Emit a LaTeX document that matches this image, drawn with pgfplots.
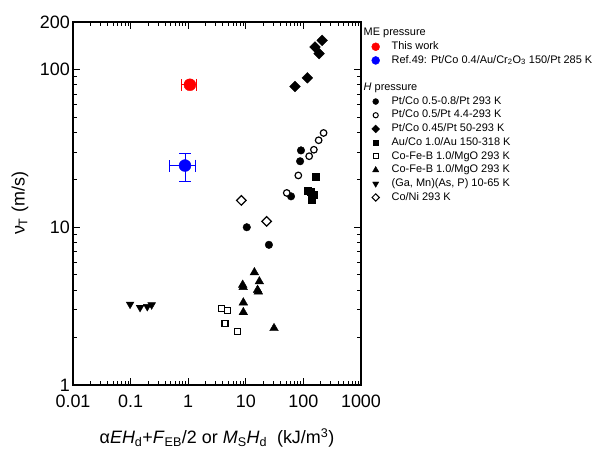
\documentclass[border=0pt]{standalone}
\usepackage{fontspec}
\setmainfont{Liberation Sans}
\usepackage{pgfplots}
\pgfplotsset{compat=1.18}
\begin{document}
\begin{tikzpicture}
\begin{axis}[
 at={(0,0)}, anchor=south west,
 scale only axis, width=288bp, height=363bp,
 xmode=log, ymode=log,
 xmin=0.01, xmax=1000, ymin=1, ymax=200,
 xtick={0.01,0.1,1,10,100,1000}, xticklabels={0.01,0.1,1,10,100,1000},
 minor xtick={0.02,0.03,0.04,0.05,0.06,0.07,0.08,0.09,0.2,0.3,0.4,0.5,0.6,0.7,0.8,0.9,2,3,4,5,6,7,8,9,20,30,40,50,60,70,80,90,200,300,400,500,600,700,800,900},
 ytick={1,10,100}, yticklabels={1,10,100},
 minor ytick={2,3,4,5,6,7,8,9,20,30,40,50,60,70,80,90},
 extra y ticks={200}, extra y tick labels={200}, extra y tick style={major tick length=0pt},
 tick label style={font=\fontsize{18}{20}\selectfont, inner sep=1bp},
 xticklabel style={yshift=-9bp},
 yticklabel style={xshift=-2bp},
 /pgf/number format/assume math mode=true,
 axis line style={line width=1.2pt},
 major tick length=7bp, minor tick length=4bp,
 every tick/.style={black, line width=0.8pt},
 tick align=inside,
 xlabel={α\textit{EH}\textsubscript{d}+\textit{F}\textsubscript{EB}/2 or \textit{M}\textsubscript{S}\textit{H}\textsubscript{d}~~(kJ/m\textsuperscript{3})},
 ylabel={ν\textsubscript{T} (m/s)},
 label style={font=\fontsize{18}{20}\selectfont},
 xlabel style={at={(axis description cs:0.5,0)}, anchor=center, yshift=-53bp},
 ylabel style={at={(axis description cs:0,0.5)}, anchor=center, yshift=53bp},
 legend style={at={(1,1)}, anchor=north west, draw=none, fill=none,
   font=\fontsize{11}{12}\selectfont, row sep=0pt, column sep=10bp, inner sep=0pt,
   xshift=6bp, yshift=-4bp,
   nodes={inner sep=2bp, text height=7.6bp, text depth=2.1bp}},
 legend cell align=left,
]
\addlegendimage{empty legend}\addlegendentry{\hspace*{-28bp}ME pressure}
\addlegendimage{only marks, mark=*, red, mark size=4}\addlegendentry{This work}
\addlegendimage{only marks, mark=*, blue, mark size=4}\addlegendentry{Ref.49: Pt/Co 0.4/Au/Cr\textsubscript{2}O\textsubscript{3} 150/Pt 285 K}
\addlegendimage{empty legend}\addlegendentry{}
\addlegendimage{empty legend}\addlegendentry{\hspace*{-28bp}\textit{H} pressure}
\addlegendimage{only marks, mark=*, black, mark size=3}\addlegendentry{Pt/Co 0.5-0.8/Pt 293 K}
\addlegendimage{only marks, mark=*, draw=black, fill=white, line width=1pt, mark size=2.6}\addlegendentry{Pt/Co 0.5/Pt 4.4-293 K}
\addlegendimage{only marks, mark=square*, mark options={rotate=45}, black, mark size=2.8}\addlegendentry{Pt/Co 0.45/Pt 50-293 K}
\addlegendimage{only marks, mark=square*, black, mark size=2.8}\addlegendentry{Au/Co 1.0/Au 150-318 K}
\addlegendimage{only marks, mark=square*, draw=black, fill=white, line width=1pt, mark size=2.4}\addlegendentry{Co-Fe-B 1.0/MgO 293 K}
\addlegendimage{only marks, mark=triangle*, black, mark size=3.6}\addlegendentry{Co-Fe-B 1.0/MgO 293 K}
\addlegendimage{only marks, mark=triangle*, mark options={rotate=180}, black, mark size=3.6}\addlegendentry{(Ga, Mn)(As, P) 10-65 K}
\addlegendimage{only marks, mark=square*, mark options={rotate=45}, draw=black, fill=white, line width=1pt, mark size=2.6}\addlegendentry{Co/Ni 293 K}

% ME pressure
\addplot[forget plot, only marks, mark=*, red, mark size=6,
  error bars/.cd, x dir=both, x explicit, error bar style={line width=1pt, red}]
  coordinates {(1.07,80) +- (0.3,0)};
\addplot[forget plot, only marks, mark=*, blue, mark size=6,
  error bars/.cd, x dir=both, x explicit, y dir=both, y explicit,
  error bar style={line width=1pt, blue}]
  coordinates {(0.88,24.6) +- (0.42,5)};
% H pressure
\addplot[forget plot, only marks, mark=*, black, mark size=3.8]
  coordinates {(90.8,30.7) (87.7,26.2) (61,15.7) (10.4,10.0) (25.2,7.74)};
\addplot[forget plot, only marks, mark=*, draw=black, fill=white, line width=1.2pt, mark size=3.3]
  coordinates {(51.4,16.5) (81.6,21.3) (126,28.2) (152,31) (184,35.6) (224,39.6)};
\addplot[forget plot, only marks, mark=square*, mark options={rotate=45}, black, mark size=3.8]
  coordinates {(71.5,78) (117,88.5) (159,139) (187,126) (212,153)};
\addplot[forget plot, only marks, mark=square*, black, mark size=3.6]
  coordinates {(163,21) (117,17.1) (134,16.7) (152,16.1) (138,15)};
\addplot[forget plot, only marks, mark=square*, draw=black, fill=white, line width=1.2pt, mark size=3]
  coordinates {(3.8,3.07) (4.8,2.95) (4.36,2.46) (7.23,2.18)};
\addplot[forget plot, only marks, mark=triangle*, black, mark size=5]
  coordinates {(14.1,5.17) (8.83,4.31) (9.0,4.17) (17.2,4.53) (16.5,3.91) (16.0,4.0) (9.06,3.33) (9.06,2.89) (30.9,2.29)};
\addplot[forget plot, only marks, mark=triangle*, mark options={rotate=180}, black, mark size=4.5]
  coordinates {(0.098,3.25) (0.146,3.1) (0.195,3.14) (0.232,3.22)};
\addplot[forget plot, only marks, mark=square*, mark options={rotate=45}, draw=black, fill=white, line width=1.2pt, mark size=3.4]
  coordinates {(8.36,14.8) (23,10.9)};
\end{axis}
\pgfresetboundingbox
\useasboundingbox (-73bp,-65bp) rectangle (524bp,385bp);
\end{tikzpicture}
\end{document}
